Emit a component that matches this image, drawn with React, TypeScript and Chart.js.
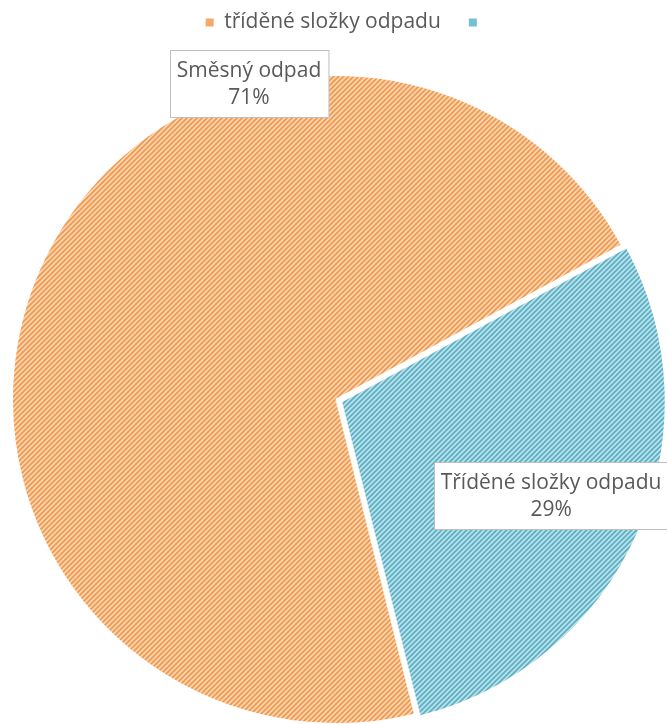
import React, { useEffect, useRef } from 'react';
import { Chart, registerables } from 'chart.js';

Chart.register(...registerables);

// ---- data ----
const legendLabels = ['tříděné složky odpadu', ''];
const sliceNames = ['Směsný odpad', 'Tříděné složky odpadu'];
const sliceValues = [71, 29];

// ---- styles ----
const stripeBg = ['#FBD6B3', '#C6EBF5'];
const stripeFg = ['#F09A50', '#54A9BC'];
const legendSwatch = ['#F6A868', '#74C1D3'];
// Chart.js translates an arc by offset/4 px
const sliceOffsets = [0, 20];
// label placement: angle (deg, clockwise from 3 o'clock) and radius fraction
const labelAngles = [-105.5, 24.2];
const labelRadii = [1.009, 0.725];

const FONT = '"Open Sans", Lato, sans-serif';
const FONT_SIZE = 21;

function makePattern(bg: string, fg: string): CanvasPattern | string {
  const s = 5;
  const c = document.createElement('canvas');
  c.width = s;
  c.height = s;
  const g = c.getContext('2d');
  if (!g) return bg;
  g.fillStyle = bg;
  g.fillRect(0, 0, s, s);
  g.strokeStyle = fg;
  g.lineWidth = 1.8;
  g.beginPath();
  g.moveTo(-1, s + 1);
  g.lineTo(s + 1, -1);
  g.moveTo(-1, 1);
  g.lineTo(1, -1);
  g.moveTo(s - 1, s + 1);
  g.lineTo(s + 1, s - 1);
  g.stroke();
  const p = g.createPattern(c, 'repeat');
  return p || bg;
}

const labelPlugin = {
  id: 'boxLabels',
  afterDatasetsDraw(chart: any) {
    const ctx = chart.ctx as CanvasRenderingContext2D;
    const meta = chart.getDatasetMeta(0);
    const data = chart.data.datasets[0].data as number[];
    const total = data.reduce((a, b) => a + b, 0);
    ctx.save();
    ctx.font = `${FONT_SIZE}px ${FONT}`;
    ctx.textAlign = 'center';
    ctx.textBaseline = 'middle';
    meta.data.forEach((arc: any, i: number) => {
      const { x, y, outerRadius } = arc.getProps(['x', 'y', 'outerRadius'], true);
      const a = (labelAngles[i] * Math.PI) / 180;
      const cx = x + Math.cos(a) * outerRadius * labelRadii[i];
      const cy = y + Math.sin(a) * outerRadius * labelRadii[i];
      const l1 = sliceNames[i];
      const l2 = Math.round((data[i] / total) * 100) + '%';
      const w = Math.max(ctx.measureText(l1).width, ctx.measureText(l2).width) + 14;
      const h = 67;
      const bx = Math.round(cx - w / 2) + 0.5;
      const by = Math.round(cy - h / 2) + 0.5;
      ctx.fillStyle = '#FFFFFF';
      ctx.fillRect(bx, by, w, h);
      ctx.strokeStyle = '#BFBFBF';
      ctx.lineWidth = 1;
      ctx.strokeRect(bx, by, w, h);
      ctx.fillStyle = '#595959';
      ctx.fillText(l1, cx, cy - 13);
      ctx.fillText(l2, cx, cy + 14);
    });
    ctx.restore();
  },
};

const legendLayoutPlugin = {
  id: 'legendLayout',
  beforeInit(chart: any) {
    const legend = chart.legend;
    if (!legend) return;
    const orig = legend.fit;
    legend.fit = function () {
      orig.call(this);
      this.height = 91;
    };
  },
  afterLayout(chart: any) {
    const legend = chart.legend;
    if (!legend) return;
    legend.left += 10;
    legend.right += 10;
  },
};

export default function App() {
  const ref = useRef<HTMLCanvasElement | null>(null);
  useEffect(() => {
    document.body.style.margin = '0';
    const canvas = ref.current;
    if (!canvas) return;
    const patterns = sliceValues.map((_, i) => makePattern(stripeBg[i], stripeFg[i]));
    const chart = new Chart(canvas, {
      type: 'pie',
      data: {
        labels: legendLabels,
        datasets: [
          {
            data: sliceValues,
            backgroundColor: patterns as any,
            borderColor: '#FFFFFF',
            borderWidth: 2,
            offset: sliceOffsets,
          },
        ],
      },
      options: {
        animation: false,
        responsive: false,
        rotation: 166,
        radius: 324.5,
        layout: { padding: { top: -16, left: 6, right: 0, bottom: 0 } },
        plugins: {
          legend: {
            position: 'top',
            labels: {
              boxWidth: 8,
              boxHeight: 8,
              padding: 28,
              color: '#595959',
              font: { size: FONT_SIZE, family: FONT },
              generateLabels: (c: any) =>
                (c.data.labels as string[]).map((t, i) => ({
                  text: t,
                  fillStyle: legendSwatch[i],
                  strokeStyle: legendSwatch[i],
                  lineWidth: 0,
                  hidden: false,
                  index: i,
                  fontColor: '#595959',
                })),
            },
          },
          tooltip: { enabled: false },
        },
      },
      plugins: [legendLayoutPlugin, labelPlugin],
    });
    return () => chart.destroy();
  }, []);
  return (
    <div style={{ width: 667, height: 724, position: 'relative' }}>
      <canvas ref={ref} width={667} height={724} style={{ width: 667, height: 724, display: 'block' }} />
    </div>
  );
}
